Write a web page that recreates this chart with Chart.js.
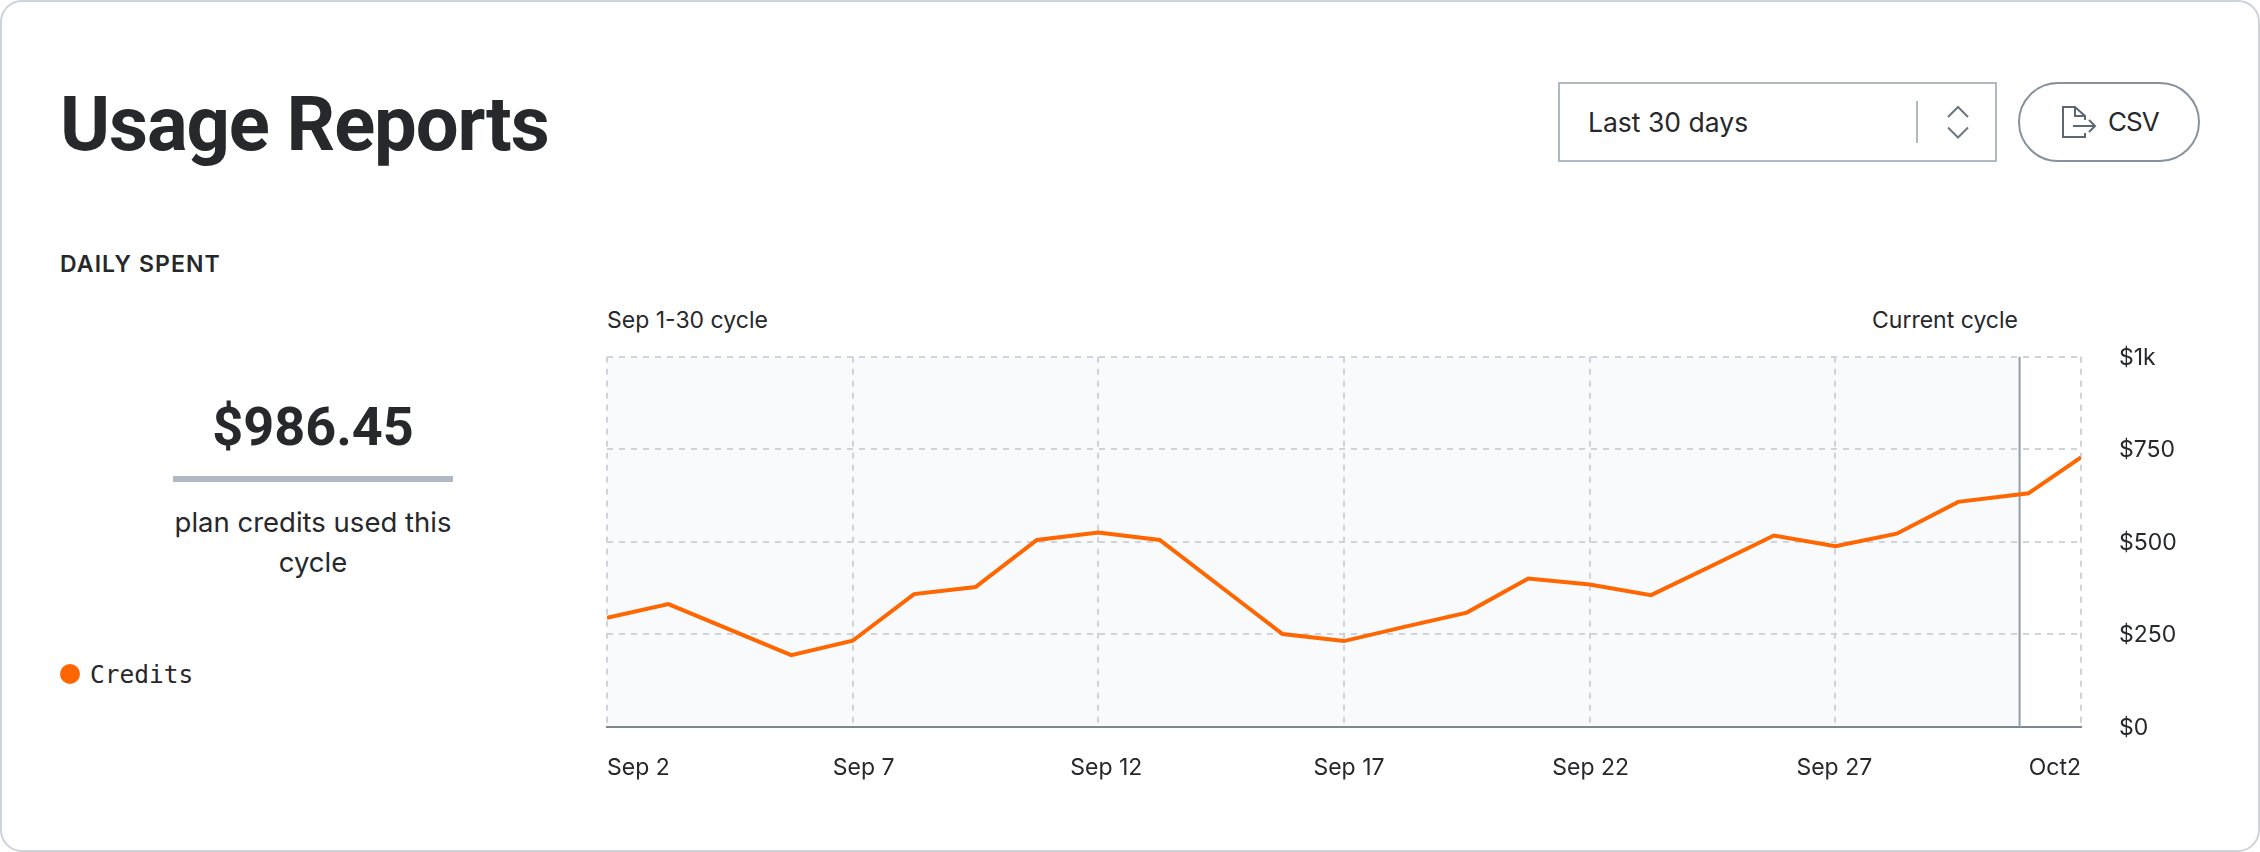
<!DOCTYPE html>
<html>
<head>
<meta charset="utf-8">
<title>Usage Reports</title>
<script src="https://cdn.jsdelivr.net/npm/chart.js@4/dist/chart.umd.min.js"></script>
<style>
  html, body { margin: 0; padding: 0; background: #fff; }
  body { width: 2260px; height: 852px; position: relative; overflow: hidden; font-family: Inter, sans-serif; color: #26282b; }
  .card { position: absolute; left: 0; top: 0; width: 2256px; height: 848px; border: 2px solid #cdd3d9; border-radius: 22px; }
  .txt { position: absolute; white-space: nowrap; }
  #title { left: 60px; top: 86px; font-family: Roboto, sans-serif; font-size: 76px; line-height: 76px; font-weight: 700; letter-spacing: -1.1px; }
  #daily { left: 60px; top: 252px; font-size: 23px; line-height: 24px; font-weight: 600; letter-spacing: 1.1px; }
  #select { position: absolute; left: 1558px; top: 82px; width: 435px; height: 76px; border: 2px solid #b0b8c1; }
  #selectText { left: 1588px; top: 108px; font-size: 26.5px; line-height: 28px; }
  #selectBar { position: absolute; left: 1916px; top: 101px; width: 2px; height: 42px; background: #b0b8c1; }
  #csv { position: absolute; left: 2018px; top: 82px; width: 178px; height: 76px; border: 2px solid #87929e; border-radius: 40px; }
  #csvText { left: 2108px; top: 108px; font-size: 26px; line-height: 28px; letter-spacing: -1px; }
  .icon { position: absolute; left: 0; top: 0; }
  #sepCycle { left: 607px; top: 308px; font-size: 23px; line-height: 24px; }
  #curCycle { left: 1872px; top: 308px; font-size: 23px; line-height: 24px; }
  #amount { left: 113px; width: 400px; text-align: center; top: 400px; font-family: Roboto, sans-serif; font-size: 54px; line-height: 54px; font-weight: 700; }
  #amountBar { position: absolute; left: 173px; top: 476px; width: 280px; height: 6px; background: #b0b8c1; }
  #planText { left: 113px; width: 400px; text-align: center; top: 502px; font-size: 27.5px; line-height: 40px; }
  #legendDot { position: absolute; left: 60px; top: 664px; width: 20px; height: 20px; border-radius: 50%; background: #ff6600; }
  #legendText { left: 90px; top: 663px; font-family: "DejaVu Sans Mono", monospace; font-size: 24.5px; line-height: 24px; }
  #chartBox { position: absolute; left: 600px; top: 340px; width: 1640px; height: 460px; }
</style>
</head>
<body>
<div class="card"></div>
<div class="txt" id="title">Usage Reports</div>
<div class="txt" id="daily">DAILY SPENT</div>

<div id="select"></div>
<div class="txt" id="selectText">Last 30 days</div>
<div id="selectBar"></div>
<div id="csv"></div>
<div class="txt" id="csvText">CSV</div>
<svg class="icon" width="2260" height="200" fill="none" stroke-width="2">
  <path d="M1948 117 L1958 107 L1968 117 M1948 127.5 L1958 137.5 L1968 127.5" stroke="#6b7680"/>
  <path d="M2085 120 V116 L2075 107 H2063 V137 H2085 V133 M2075 107 V116 H2085 M2073 126 H2095 M2089 120 L2095 126 L2089 132" stroke="#5c6771"/>
</svg>

<div class="txt" id="sepCycle">Sep 1-30 cycle</div>
<div class="txt" id="curCycle">Current cycle</div>

<div class="txt" id="amount">$986.45</div>
<div id="amountBar"></div>
<div class="txt" id="planText">plan credits used this<br>cycle</div>
<div id="legendDot"></div>
<div class="txt" id="legendText">Credits</div>

<div id="chartBox"><canvas id="usage-chart"></canvas></div>

<script>
// x is days since Sep 2
const dayOffsets = [0, 1.25, 2.5, 3.75, 5, 6.25, 7.5, 8.75, 10, 11.25, 12.5, 13.75, 15, 16.25, 17.5, 18.75, 20, 21.25, 22.5, 23.75, 25, 26.25, 27.5, 28.93, 30];
const credits = [295, 332, 263, 194, 233, 359, 378, 505, 525, 505, 378, 251, 232, 271, 309, 401, 385, 356, 436, 517, 488, 522, 608, 631, 728];
const xTickLabels = ["Sep 2", "Sep 7", "Sep 12", "Sep 17", "Sep 22", "Sep 27", "Oct2"];
const yTickLabels = { 0: "$0", 250: "$250", 500: "$500", 750: "$750", 1000: "$1k" };
const cycleEnd = 28.75;

const gridColor = "#d0d4da";
const tickFont = { family: "Inter", size: 23 };

// labels are spread evenly in the original, not centred on their ticks
const labelShift = [0, 11, 8, 5, 1, -1, 0];

const cyclePlugin = {
    id: "cycle",
    afterUpdate(chart) {
        chart.scales.x.getLabelItems().forEach((item, i) => {
            item.options.translation[0] += labelShift[i];
        });
        chart.scales.y.getLabelItems().forEach((item) => {
            item.options.translation[1] += 1;
        });
    },
    beforeDraw(chart) {
        const { ctx, chartArea, scales } = chart;
        const end = scales.x.getPixelForValue(cycleEnd);
        ctx.save();
        ctx.fillStyle = "#f9fafc";
        ctx.fillRect(chartArea.left, chartArea.top, end - chartArea.left, chartArea.height);
        ctx.restore();
    },
    beforeDatasetsDraw(chart) {
        const { ctx, chartArea, scales } = chart;
        const end = scales.x.getPixelForValue(cycleEnd);
        ctx.save();
        ctx.strokeStyle = "#929da8";
        ctx.lineWidth = 2;
        ctx.beginPath();
        ctx.moveTo(end, chartArea.top);
        ctx.lineTo(end, chartArea.bottom);
        ctx.stroke();
        ctx.restore();
    }
};

new Chart(document.getElementById("usage-chart"), {
    type: "line",
    plugins: [cyclePlugin],
    data: {
        datasets: [{
            label: "Credits",
            data: dayOffsets.map((d, i) => ({ x: d, y: credits[i] })),
            borderColor: "#ff6600",
            borderWidth: 4,
            pointRadius: 0,
            tension: 0,
            borderJoinStyle: "miter"
        }]
    },
    options: {
        responsive: true,
        maintainAspectRatio: false,
        animation: false,
        layout: { padding: { left: 7, top: 16.7 } },
        plugins: { legend: { display: false }, tooltip: { enabled: false } },
        scales: {
            x: {
                type: "linear",
                min: 0,
                max: 30,
                afterFit(scale) {
                    scale.height = 73;
                    scale.paddingLeft = scale.paddingRight = 0;
                },
                grid: { color: gridColor, lineWidth: 2, drawTicks: false },
                border: { display: true, color: "#7c8792", width: 2, dash: [6, 6] },
                ticks: {
                    stepSize: 5,
                    align: "inner",
                    maxRotation: 0,
                    autoSkip: false,
                    padding: 27,
                    color: "#26282b",
                    font: tickFont,
                    callback: (value) => xTickLabels[value / 5]
                }
            },
            y: {
                position: "right",
                min: 0,
                max: 1000,
                afterFit(scale) {
                    scale.width = 159;
                    scale.paddingTop = scale.paddingBottom = 0;
                },
                grid: { color: gridColor, lineWidth: 2, drawTicks: false },
                border: { display: false, dash: [6, 6] },
                ticks: {
                    stepSize: 250,
                    padding: 38,
                    color: "#26282b",
                    font: tickFont,
                    callback: (value) => yTickLabels[value]
                }
            }
        }
    }
});
</script>
</body>
</html>
